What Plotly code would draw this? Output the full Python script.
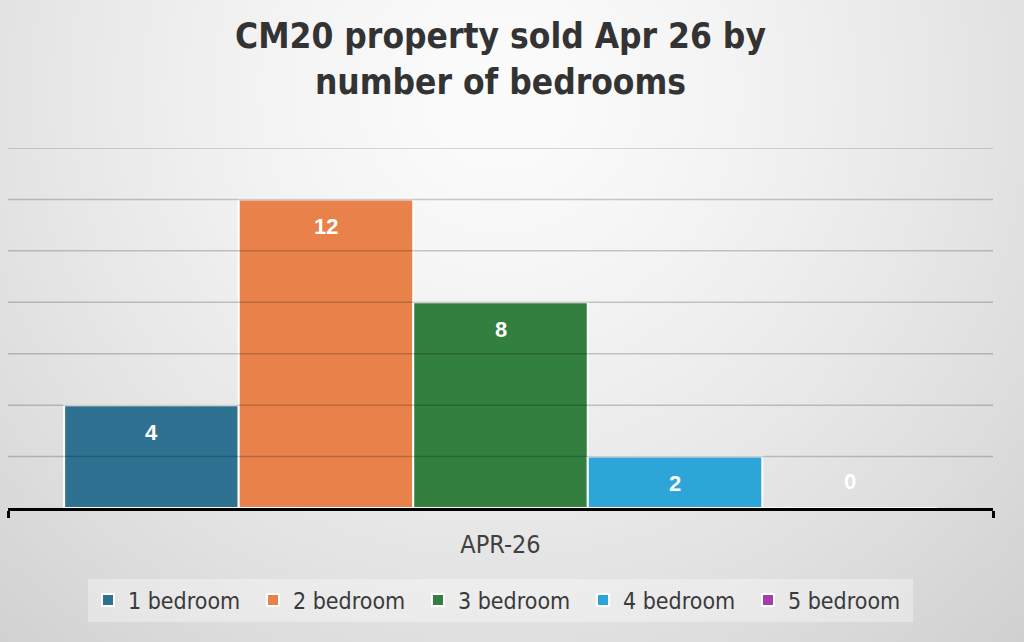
import zlib, struct, base64
import numpy as np
import plotly.graph_objects as go

# ---------------- data ----------------
category = ["APR-26"]
series_names = ["1 bedroom", "2 bedroom", "3 bedroom", "4 bedroom", "5 bedroom"]
series_values = [4, 12, 8, 2, 0]
series_colors = ["#2F7190", "#E8824A", "#327F3F", "#2EA5D9", "#A23DAA"]
grid_values = [2, 4, 6, 8, 10, 12, 14]
title_text = "CM20 property sold Apr 26 by<br>number of bedrooms"

W, H = 1024, 642
ML, MR, MT, MB = 8, 31, 148, 134
PW, PH = W - ML - MR, H - MT - MB
BARGAP = 0.114


# ---------------- background gradient image ----------------
def png_uri(arr):
    h, w, _ = arr.shape
    raw = b"".join(b"\x00" + arr[i].tobytes() for i in range(h))

    def chunk(tag, data):
        c = struct.pack(">I", len(data)) + tag + data
        return c + struct.pack(">I", zlib.crc32(tag + data) & 0xFFFFFFFF)

    png = (b"\x89PNG\r\n\x1a\n"
           + chunk(b"IHDR", struct.pack(">IIBBBBB", w, h, 8, 2, 0, 0, 0))
           + chunk(b"IDAT", zlib.compress(raw, 9))
           + chunk(b"IEND", b""))
    return "data:image/png;base64," + base64.b64encode(png).decode()


gw, gh = 256, 161
xs = np.linspace(0, W, gw)
ys = np.linspace(0, H, gh)
X, Y = np.meshgrid(xs, ys)
d = np.sqrt(((X - 500) / 640) ** 2 + ((Y - 90) / 640) ** 2)
val = np.clip(252 - 34 * d ** 1.4, 200, 255).astype(np.uint8)
img = np.stack([val, val, val], axis=-1)
bg_uri = png_uri(img)

# ---------------- figure ----------------
fig = go.Figure()
for name, v, c in zip(series_names, series_values, series_colors):
    fig.add_trace(go.Bar(
        x=category, y=[v], name=name,
        marker=dict(color=c, line=dict(color="white", width=2)),
        hoverinfo="name+y",
    ))

# data labels, positioned via the axis scales
n = len(series_names)
bw = (1 - BARGAP) / n
annotations = []
for i, v in enumerate(series_values):
    xc = -(1 - BARGAP) / 2 + (i + 0.5) * bw
    annotations.append(dict(
        x=xc, y=v, xref="x", yref="y", text=str(v), showarrow=False,
        yshift=(-27 if v > 0 else 27),
        font=dict(family="Liberation Sans, Arial, sans-serif", size=22,
                  color="white", weight="bold"),
    ))

# gridlines drawn above bars (as in reference)
shapes = [dict(type="line", xref="paper", x0=0, x1=1, yref="y", y0=g, y1=g,
               line=dict(color="rgba(0,0,0,0.2)", width=1.5), layer="above")
          for g in grid_values]

narrow = "DejaVu Sans Condensed, DejaVu Sans, sans-serif"

fig.update_layout(
    width=W, height=H,
    margin=dict(l=ML, r=MR, t=MT, b=MB, autoexpand=False),
    paper_bgcolor="#dcdcdc",
    plot_bgcolor="rgba(0,0,0,0)",
    barmode="group", bargap=BARGAP, bargroupgap=0,
    title=dict(text=title_text, x=0.5, xref="paper", xanchor="center",
               y=1 - 48 / H, yref="container", yanchor="top",
               font=dict(family=narrow, size=35, color="#333333", weight="bold")),
    xaxis=dict(type="category", showline=True, linecolor="black", linewidth=3,
               ticks="outside", tickson="boundaries", ticklen=7, tickwidth=3,
               tickcolor="black", showgrid=False, layer="above traces",
               tickfont=dict(family=narrow, size=25, color="#404040"),
               ticklabelstandoff=12),
    yaxis=dict(range=[0, 14], showgrid=False, zeroline=False,
               showticklabels=False, ticks=""),
    legend=dict(orientation="h", x=0.5, xanchor="center", y=-0.256, yanchor="middle",
                bgcolor="rgba(255,255,255,0.35)", borderwidth=0,
                font=dict(family=narrow, size=23, color="#3a3a3a"),
                entrywidth=120, entrywidthmode="pixels",
                itemclick=False, itemdoubleclick=False),
    annotations=annotations,
    shapes=shapes,
    images=[dict(source=bg_uri, xref="paper", yref="paper",
                 x=-ML / PW, y=1 + MT / PH, sizex=W / PW, sizey=H / PH,
                 xanchor="left", yanchor="top", sizing="stretch", layer="below")],
    showlegend=True,
)

fig.write_html("out.html", config={"displayModeBar": False},
               post_script="document.body.style.margin='0';document.body.style.overflow='hidden';")
